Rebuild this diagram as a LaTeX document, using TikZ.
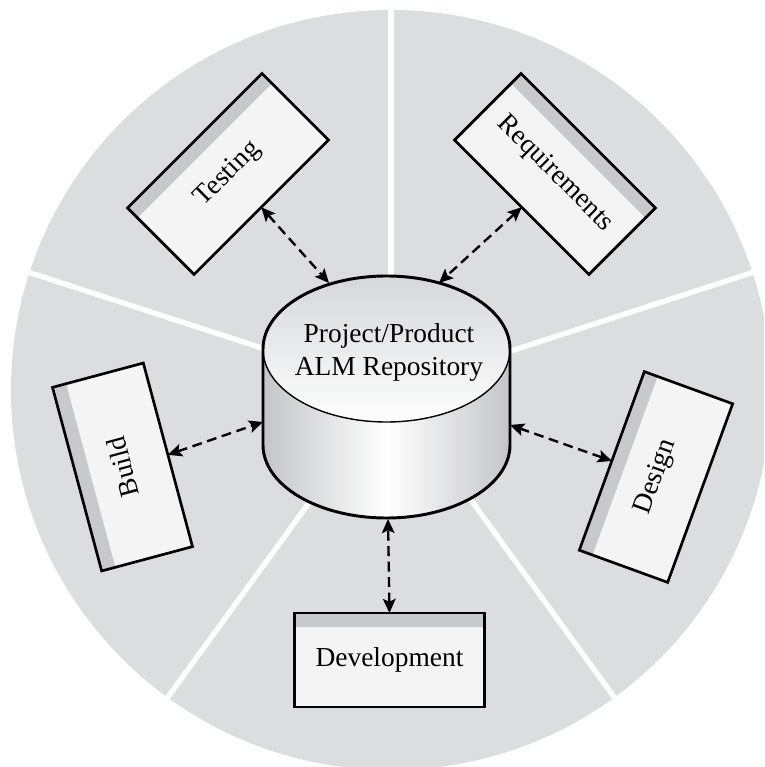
\documentclass[tikz,border=0pt]{standalone}
\usepackage{fontspec}
\setmainfont{Liberation Serif}
\usepackage{tikz}
\usetikzlibrary{arrows.meta,calc}
\definecolor{ringgray}{RGB}{220,221,223}
\definecolor{boxfill}{RGB}{244,244,244}
\definecolor{stripgray}{RGB}{200,201,203}
\definecolor{cylgray}{RGB}{196,197,199}
\definecolor{topgray}{RGB}{214,215,217}

\begin{document}
\begin{tikzpicture}[
x=0.025cm, y=0.025cm,
    phase/.style={
        fill=boxfill,
        minimum width=4.75cm,
        minimum height=2.35cm,
        inner sep=0pt,
        outer sep=0pt,
        font=\fontsize{19.5}{23.5}\selectfont
    },
    link/.style={
        dash pattern=on 7pt off 4pt,
        line width=1.7pt,
        {Stealth[length=10pt,width=9pt,inset=2pt]}-{Stealth[length=10pt,width=9pt,inset=2pt]}
    }
]
\useasboundingbox (-391,-377) rectangle (373,390);
\clip (-391,-377) rectangle (373,390);

% The grey disc cut into five sectors
\fill[ringgray] (0,0) circle[radius=380];
\foreach \a in {18,90,162,234,306}
    \draw[white, line width=3.8pt] (0,0) -- (\a:400);

% The repository in the middle
\shade[left color=cylgray, right color=cylgray, middle color=white]
    (-128,41) -- (-128,-55) arc[start angle=180, end angle=360, x radius=123.5, y radius=73]
    -- (119,41) arc[start angle=0, end angle=180, x radius=123.5, y radius=73] -- cycle;
\shade[top color=topgray, bottom color=white]
    (-4.5,41) ellipse[x radius=123.5, y radius=73];
\draw[line width=1pt] (-128,41) arc[start angle=180, end angle=360, x radius=123.5, y radius=73];
\draw[line width=2.1pt] (-128,41) -- (-128,-55) arc[start angle=180, end angle=360, x radius=123.5, y radius=73]
    -- (119,41) arc[start angle=0, end angle=180, x radius=123.5, y radius=73] -- cycle;
\node[font=\fontsize{19.5}{23.5}\selectfont, align=center] (repo) at (-2,38) {Project/Product\\ALM Repository};

\coordinate (repoT) at (-62,107);
\coordinate (repoR) at (48,107);
\coordinate (repoB) at (-128,-32);
\coordinate (repoD) at (119,-35);
\coordinate (repoV) at (-3,-129);

% The five boxes
\node[phase, rotate=45]  (testing)      at (-163,216)   {Testing};
\node[phase, rotate=-45] (requirements) at (164,216)    {Requirements};
\node[phase, rotate=70]  (design)       at (265,-87)    {Design};
\node[phase, rotate=105] (build)        at (-268.5,-77) {Build};
\node[phase]             (development)  at (-1.5,-270)  {Development};

\foreach \n in {testing,requirements,design,build,development}{
    \fill[stripgray] (\n.north west) -- (\n.north east)
        -- ($(\n.north east)!0.15!(\n.south east)$)
        -- ($(\n.north west)!0.15!(\n.south west)$) -- cycle;
    \draw[line width=1.9pt] (\n.north west) -- (\n.north east)
        -- (\n.south east) -- (\n.south west) -- cycle;
}

% The links to the repository
\draw[link] (testing.south) -- (repoT);
\draw[link] (requirements.south) -- (repoR);
\draw[link] (build.south) -- (repoB);
\draw[link] (design.north) -- (repoD);
\draw[link] (development.north) -- (repoV);
\end{tikzpicture}
\end{document}
